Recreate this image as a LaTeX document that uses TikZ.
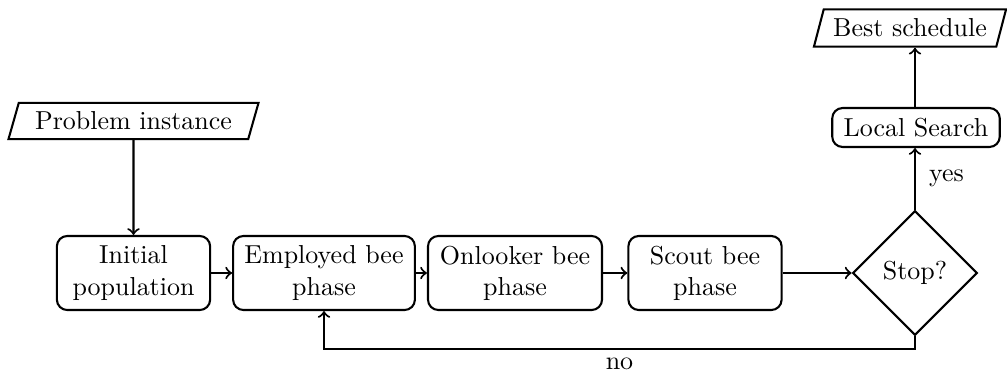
\documentclass[tikz,border=0pt]{standalone}
\usetikzlibrary{shapes.geometric}
\begin{document}
\begin{tikzpicture}[x=0.385pt,y=-0.385pt,
  every path/.style={thick},
  proc/.style={draw,thick,rounded corners=4pt,align=center,minimum height=28.5pt,inner sep=2pt,font=\normalsize},
  io/.style={draw,thick,trapezium,trapezium left angle=69,trapezium right angle=111,trapezium stretches=true,inner sep=1pt},
  dec/.style={draw,thick,diamond,aspect=1,inner sep=0pt,minimum width=48pt,minimum height=48pt},
  arr/.style={->,thick}]
\useasboundingbox (0,0) rectangle (1007,374);
\node[io,minimum width=96.3pt,minimum height=13.9pt] (prob) at (133.5,121) {Problem instance};
\node[proc,minimum width=59pt] (init) at (133.5,273) {Initial\\population};
\node[proc,minimum width=70pt] (emp) at (324,273) {Employed bee\\phase};
\node[proc,minimum width=67pt] (onl) at (515,273) {Onlooker bee\\phase};
\node[proc,minimum width=59pt] (sco) at (705,273) {Scout bee\\phase};
\node[dec] (stop) at (915,273) {Stop?};
\node[proc,minimum width=64.5pt,minimum height=15pt] (ls) at (916,127.5) {Local Search};
\node[io,minimum width=74.5pt,minimum height=14.4pt] (best) at (910,28) {Best schedule};
\coordinate (c1) at (915,349);
\coordinate (c2) at (324,349);
\draw[arr] (prob) -- (init);
\draw[arr] (init) -- (emp);
\draw[arr] (emp) -- (onl);
\draw[arr] (onl) -- (sco);
\draw[arr] (sco) -- (stop);
\draw[arr] (stop) -- node[midway,right,inner sep=5pt]{yes} (stop |- ls.south);
\draw[arr] (stop |- ls.north) -- (stop |- best.south);
\draw[arr] (stop.south) -- (c1) -- node[below,inner sep=3pt]{no} (c2) -- (emp.south);
\end{tikzpicture}
\end{document}
